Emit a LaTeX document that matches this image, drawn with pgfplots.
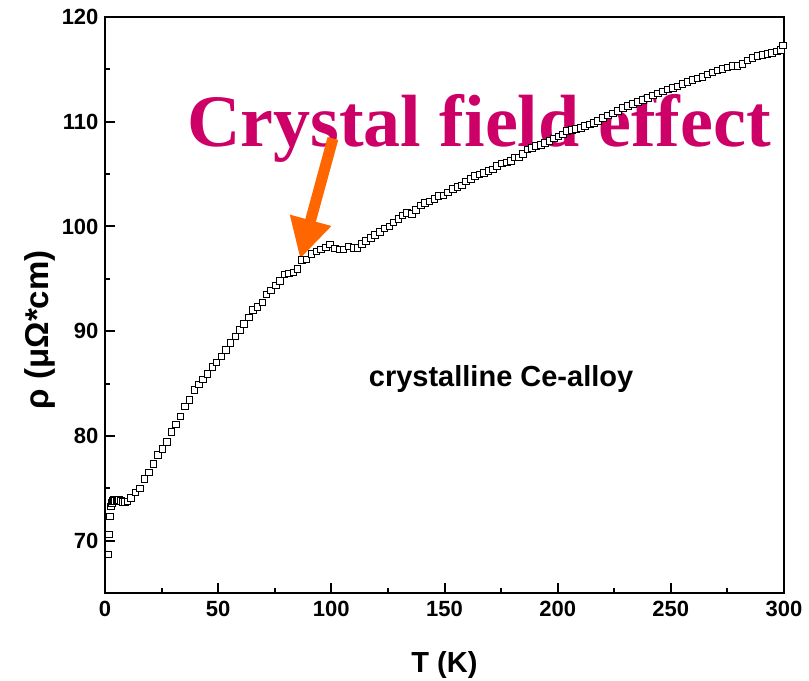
\documentclass[border=0pt]{standalone}
\usepackage{fontspec}
\setmainfont{Liberation Sans}
\newfontfamily\timesfont{Liberation Serif}
\usepackage{pgfplots}
\pgfplotsset{compat=1.18}
\usetikzlibrary{calc,arrows.meta}
\definecolor{cfmagenta}{RGB}{204,0,102}
\definecolor{cforange}{RGB}{255,102,0}

\pgfplotstableread{
T rho
1.5 68.7
1.8 70.6
2.3 72.3
2.6 73.25
3.0 73.6
3.5 73.8
4.0 73.9
4.5 73.8
5.0 73.9
5.5 73.8
6.2 73.9
7.0 73.8
7.8 73.7
8.8 73.7
10.0 73.75
11.5 74.05
13.5 74.6
15.5 75.0
17.4 75.9
19.4 76.5
21.4 77.35
23.4 78.2
25.4 78.75
27.4 79.4
29.4 80.35
31.4 81.1
33.4 81.85
35.4 82.8
37.4 83.45
39.5 84.4
41.4 84.9
43.4 85.4
45.3 85.9
47.4 86.6
49.3 87.0
51.4 87.6
53.5 88.2
55.5 88.9
57.6 89.5
59.6 90.1
61.5 90.7
63.6 91.3
65.5 92.0
67.4 92.3
69.5 92.75
71.4 93.5
73.4 93.9
75.4 94.35
77.3 94.8
79.2 95.4
81.3 95.5
83.2 95.6
85.1 95.95
86.9 96.8
89.0 96.85
91.3 97.4
93.4 97.6
95.5 97.8
97.6 98.0
99.5 98.3
101.6 97.9
103.5 97.8
105.3 97.8
107.5 98.1
109.7 97.95
111.5 97.95
113.4 98.35
115.3 98.6
117.5 98.9
119.3 99.2
121.5 99.5
123.4 99.8
125.6 100.0
127.4 100.4
129.6 100.7
131.4 101.05
133.3 101.3
135.5 101.2
137.4 101.55
139.5 102.0
141.4 102.25
143.3 102.4
145.5 102.6
147.3 102.9
149.5 102.95
151.6 103.25
153.6 103.6
155.7 103.8
157.6 103.9
159.5 104.3
161.6 104.55
163.5 104.8
165.4 104.95
167.5 105.1
169.4 105.3
171.3 105.45
173.3 105.75
175.3 106.0
177.5 106.1
179.4 106.25
181.0 106.6
182.8 106.6
184.6 106.95
186.6 107.35
188.6 107.5
190.5 107.7
192.5 107.8
194.4 108.0
196.3 108.15
198.4 108.4
200.3 108.6
202.3 108.8
204.2 109.1
206.2 109.2
208.1 109.3
210.2 109.4
212.1 109.6
214.3 109.75
216.0 109.9
217.9 110.05
220.0 110.35
222.2 110.6
224.4 110.8
226.6 111.05
228.8 111.3
231.0 111.5
233.2 111.7
235.4 111.9
237.6 112.1
239.8 112.25
242.0 112.5
244.2 112.7
246.4 112.9
248.6 113.1
250.8 113.2
253.0 113.35
255.2 113.6
257.4 113.8
259.6 114.0
261.8 114.15
264.0 114.3
266.2 114.5
268.4 114.7
270.6 114.9
272.8 115.05
275.0 115.2
277.2 115.3
279.4 115.35
281.6 115.5
283.8 115.85
286.0 116.1
288.2 116.3
290.4 116.4
292.6 116.45
294.8 116.55
297.0 116.7
298.6 116.85
299.6 117.3
}\resistivity

\pgfplotsset{rhoframe/.style={
  at={(0,0)}, anchor=south west,
  scale only axis,
  width=679pt, height=576pt,
  xmin=0, xmax=300, ymin=65, ymax=120,
  clip=false,
}}

\begin{document}
\begin{tikzpicture}
% underlay: annotation text and arrow, drawn first so the marks cover them
\begin{axis}[rhoframe, hide axis]
\node[anchor=base west, inner sep=0pt, text=cfmagenta,
      font=\timesfont\fontsize{74}{80}\selectfont\bfseries]
  at (axis cs:36.2,107.6) {Crystal field effect};
\draw[cforange, line width=11pt, -{Triangle[width=40pt,length=40pt]}]
  (axis cs:100.7,108.4) -- (axis cs:86.2,96.9);
\end{axis}
\begin{axis}[
  rhoframe,
  name=main,
  axis line style={line width=2.2pt},
  xtick={0,50,...,300}, ytick={70,80,...,120},
  minor x tick num=1, minor y tick num=1,
  tick align=inside,
  xtick pos=bottom, ytick pos=left,
  major tick length=10pt, minor tick length=5pt,
  every tick/.style={black, line width=2pt},
  /pgf/number format/assume math mode=true,
  tick label style={font=\fontsize{22}{26}\selectfont\bfseries},
  xticklabel style={yshift=-5pt},
  yticklabel style={xshift=-3pt},
  xlabel={T (K)},
  ylabel={ρ (μΩ*cm)},
  xlabel style={font=\fontsize{29}{34}\selectfont\bfseries,
    at={(axis description cs:0.5,-0.125)}, anchor=center},
  ylabel style={font=\fontsize{33}{38}\selectfont\bfseries,
    at={(axis description cs:-0.096,0.457)}, anchor=center, rotate=0},
]
\node[anchor=base, inner sep=0pt, font=\fontsize{29}{34}\selectfont\bfseries]
  at (axis cs:175,84.7) {crystalline Ce-alloy};
\addplot[only marks, mark=square*, mark size=3.3pt,
  mark options={fill=white, draw=black, line width=0.9pt}]
  table[x=T, y=rho] {\resistivity};
\end{axis}
\pgfresetboundingbox
\path ($(main.south west)+(-105pt,-87pt)$) rectangle ($(main.north east)+(25pt,17pt)$);
\end{tikzpicture}
\end{document}
